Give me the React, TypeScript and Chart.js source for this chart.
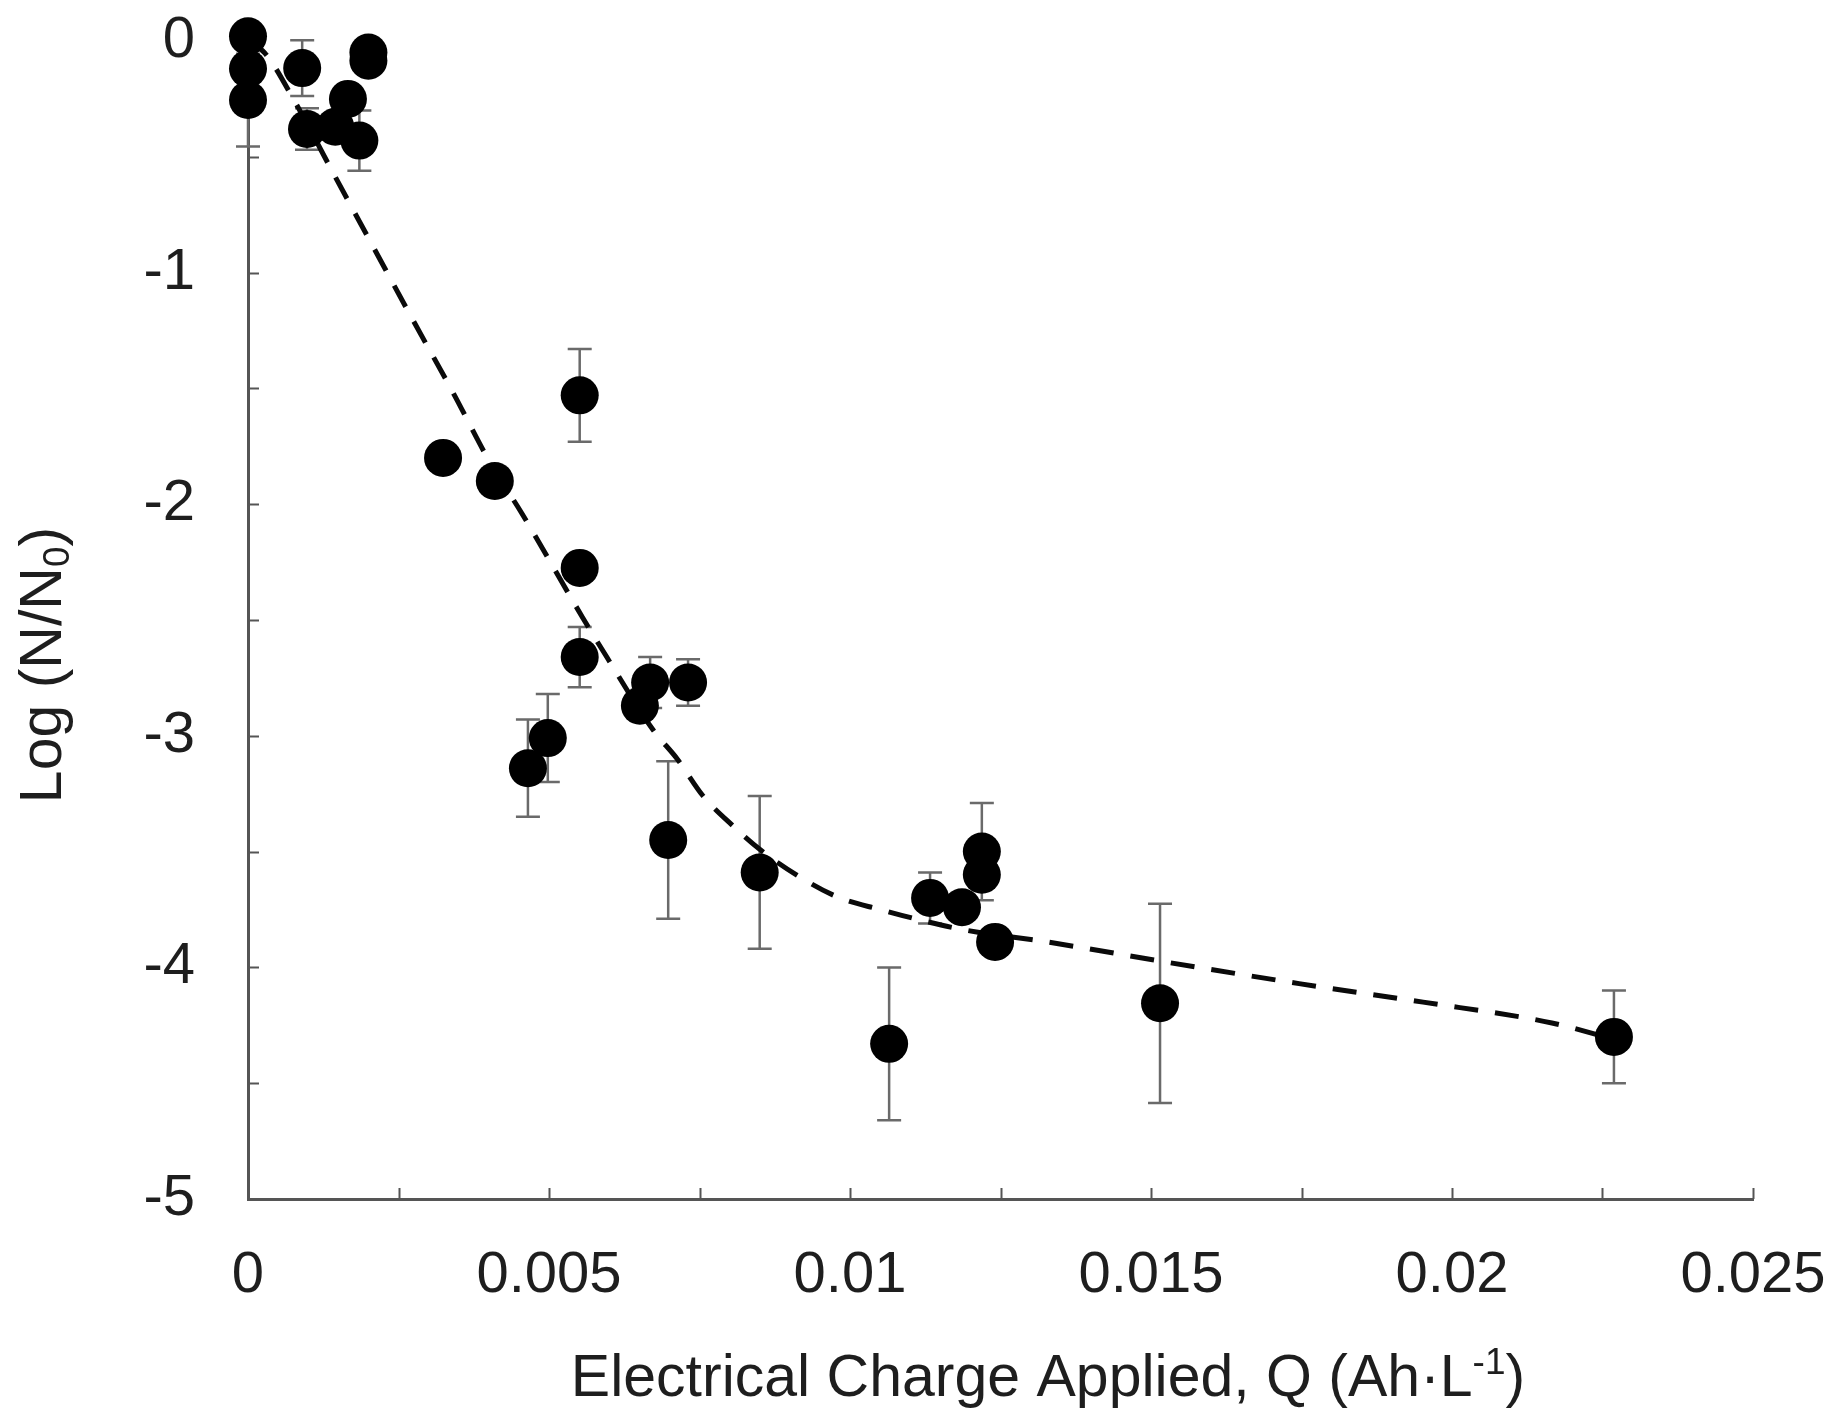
import { useEffect, useRef } from 'react';
import { Chart, registerables } from 'chart.js';

Chart.register(...registerables);

// Measured data: electrical charge Q (Ah·L-1) vs log reduction, with error bar half-widths
const Q_VALUES = [
  0, 0, 0, 0.0009, 0.002, 0.002, 0.00098, 0.00145, 0.00166, 0.00185,
  0.00324, 0.0041, 0.00551, 0.00551, 0.00551, 0.00668, 0.00651, 0.00731,
  0.00498, 0.00465, 0.00698, 0.0085, 0.01133, 0.01186, 0.01219, 0.01219,
  0.01241, 0.01065, 0.01515, 0.02269,
];
const LOG_VALUES = [
  0.02, -0.12, -0.255, -0.117, -0.05, -0.085, -0.38, -0.37, -0.25, -0.43,
  -1.8, -1.9, -1.53, -2.275, -2.66, -2.77, -2.87, -2.77,
  -3.01, -3.14, -3.45, -3.59, -3.7, -3.74, -3.5, -3.6,
  -3.89, -4.33, -4.155, -4.3,
];
const ERR_VALUES = [
  0, 0, 0.2, 0.12, 0, 0, 0.09, 0, 0, 0.13,
  0, 0, 0.2, 0.05, 0.13, 0.11, 0.05, 0.1,
  0.19, 0.21, 0.34, 0.33, 0.11, 0.04, 0.21, 0.05,
  0.03, 0.33, 0.43, 0.2,
];

// Fitted model curve (dashed)
const FIT_Q = [
  0, 0.00028, 0.00078, 0.00145, 0.00208, 0.00274, 0.00341, 0.00402, 0.00455,
  0.00556, 0.00596, 0.00673, 0.00713, 0.00756, 0.00806, 0.0085, 0.00917,
  0.00983, 0.0105, 0.01116, 0.01194, 0.01327, 0.01532, 0.01746, 0.01952,
  0.02166, 0.02269,
];
const FIT_LOG = [
  0, -0.052, -0.263, -0.587, -0.889, -1.205, -1.52, -1.82, -2.04,
  -2.49, -2.66, -2.975, -3.1, -3.26, -3.39, -3.49, -3.61,
  -3.7, -3.75, -3.795, -3.84, -3.89, -3.98, -4.07, -4.15,
  -4.24, -4.31,
];

const X_TICKS = [0, 0.005, 0.01, 0.015, 0.02, 0.025];
const X_MINOR = [0.0025, 0.005, 0.0075, 0.01, 0.0125, 0.015, 0.0175, 0.02, 0.0225, 0.025];
const Y_TICKS = [0, -1, -2, -3, -4, -5];
const Y_MINOR = [-0.5, -1, -1.5, -2, -2.5, -3, -3.5, -4, -4.5];

const X_TITLE = ['Electrical Charge Applied, Q (Ah·L', '-1', ')'];
const Y_TITLE = ['Log (N/N', '0', ')'];

const FONT = '"Liberation Sans", Arial, Helvetica, sans-serif';
const TEXT_COLOR = '#1e1e1e';
const AXIS_COLOR = '#555555';
const FONT_SIZE = 58;
const TITLE_SIZE = 59;

function drawTitle(
  ctx: CanvasRenderingContext2D,
  parts: string[],
  size: number,
  shift: number,
) {
  const small = Math.round(size * 0.62);
  ctx.font = `${size}px ${FONT}`;
  const w1 = ctx.measureText(parts[0]).width;
  const w3 = ctx.measureText(parts[2]).width;
  ctx.font = `${small}px ${FONT}`;
  const w2 = ctx.measureText(parts[1]).width;
  const total = w1 + w2 + w3;
  let x = -total / 2;
  ctx.textAlign = 'left';
  ctx.textBaseline = 'alphabetic';
  ctx.font = `${size}px ${FONT}`;
  ctx.fillText(parts[0], x, 0);
  x += w1;
  ctx.font = `${small}px ${FONT}`;
  ctx.fillText(parts[1], x, shift);
  x += w2;
  ctx.font = `${size}px ${FONT}`;
  ctx.fillText(parts[2], x, 0);
}

const decorPlugin = {
  id: 'decor',
  beforeDatasetsDraw(chart: any) {
    const { ctx } = chart;
    const xs = chart.scales.x;
    const ys = chart.scales.y;
    ctx.save();
    // inward minor ticks
    ctx.strokeStyle = AXIS_COLOR;
    ctx.lineWidth = 2;
    const bottom = ys.getPixelForValue(-5);
    const left = xs.getPixelForValue(0);
    X_MINOR.forEach((v) => {
      const px = Math.round(xs.getPixelForValue(v)) + 0.5;
      ctx.beginPath();
      ctx.moveTo(px, bottom);
      ctx.lineTo(px, bottom - 11);
      ctx.stroke();
    });
    Y_MINOR.forEach((v) => {
      const py = Math.round(ys.getPixelForValue(v)) + 0.5;
      ctx.beginPath();
      ctx.moveTo(left, py);
      ctx.lineTo(left + 11, py);
      ctx.stroke();
    });
    // error bars
    ctx.strokeStyle = '#6a6a6a';
    ctx.lineWidth = 2.5;
    Q_VALUES.forEach((q, i) => {
      const e = ERR_VALUES[i];
      if (!e) return;
      const px = xs.getPixelForValue(q);
      const yTop = ys.getPixelForValue(LOG_VALUES[i] + e);
      const yBot = ys.getPixelForValue(LOG_VALUES[i] - e);
      ctx.beginPath();
      ctx.moveTo(px, yTop);
      ctx.lineTo(px, yBot);
      ctx.moveTo(px - 12, yTop);
      ctx.lineTo(px + 12, yTop);
      ctx.moveTo(px - 12, yBot);
      ctx.lineTo(px + 12, yBot);
      ctx.stroke();
    });
    ctx.restore();
  },
  afterDraw(chart: any) {
    const { ctx } = chart;
    ctx.save();
    ctx.fillStyle = TEXT_COLOR;
    // x title
    ctx.save();
    ctx.translate(1040, 1388);
    drawTitle(ctx, X_TITLE, TITLE_SIZE, -Math.round(TITLE_SIZE * 0.38));
    ctx.restore();
    // y title
    ctx.save();
    ctx.translate(53, 657);
    ctx.rotate(-Math.PI / 2);
    drawTitle(ctx, Y_TITLE, TITLE_SIZE, Math.round(TITLE_SIZE * 0.14));
    ctx.restore();
    ctx.restore();
  },
};

export default function App() {
  const ref = useRef<HTMLCanvasElement>(null);
  useEffect(() => {
    const canvas = ref.current;
    if (!canvas) return;
    const chart = new Chart(canvas, {
      type: 'scatter',
      data: {
        datasets: [
          {
            label: 'Measured',
            data: Q_VALUES.map((q, i) => ({ x: q, y: LOG_VALUES[i] })),
            backgroundColor: '#000000',
            borderColor: '#000000',
            borderWidth: 0,
            pointRadius: 19,
            pointHoverRadius: 19,
            clip: false,
          } as any,
          {
            label: 'Model',
            data: FIT_Q.map((q, i) => ({ x: q, y: FIT_LOG[i] })),
            showLine: true,
            borderColor: '#0a0a0a',
            borderWidth: 5,
            borderDash: [24, 17],
            pointRadius: 0,
            cubicInterpolationMode: 'monotone',
            fill: false,
            clip: false,
          } as any,
        ],
      },
      options: {
        responsive: false,
        animation: false,
        events: [],
        layout: { padding: { top: 33, right: 73, left: 0, bottom: 0 } },
        plugins: {
          legend: { display: false },
          tooltip: { enabled: false },
          title: { display: false },
        },
        scales: {
          x: {
            type: 'linear',
            min: 0,
            max: 0.025,
            afterBuildTicks: (s: any) => {
              s.ticks = X_TICKS.map((v) => ({ value: v }));
            },
            afterFit: (s: any) => {
              s.height = 209;
              s.paddingLeft = 0;
              s.paddingRight = 0;
            },
            grid: { display: false, drawTicks: false },
            border: { display: true, color: AXIS_COLOR, width: 3 },
            ticks: {
              autoSkip: false,
              maxRotation: 0,
              padding: 42,
              color: TEXT_COLOR,
              font: { family: FONT, size: FONT_SIZE },
              callback: (v: any) => String(v),
            },
          },
          y: {
            type: 'linear',
            min: -5,
            max: 0,
            afterBuildTicks: (s: any) => {
              s.ticks = Y_TICKS.map((v) => ({ value: v }));
            },
            afterFit: (s: any) => {
              s.width = 240;
              s.paddingTop = 0;
              s.paddingBottom = 0;
            },
            grid: { display: false, drawTicks: false },
            border: { display: true, color: AXIS_COLOR, width: 3 },
            ticks: {
              autoSkip: false,
              padding: 53,
              color: TEXT_COLOR,
              font: { family: FONT, size: FONT_SIZE },
              callback: (v: any) => String(v),
            },
          },
        },
      } as any,
      plugins: [decorPlugin],
    });
    return () => chart.destroy();
  }, []);
  return (
    <div style={{ width: 1818, height: 1400 }}>
      <canvas ref={ref} width={1818} height={1400} style={{ display: 'block' }} />
    </div>
  );
}
